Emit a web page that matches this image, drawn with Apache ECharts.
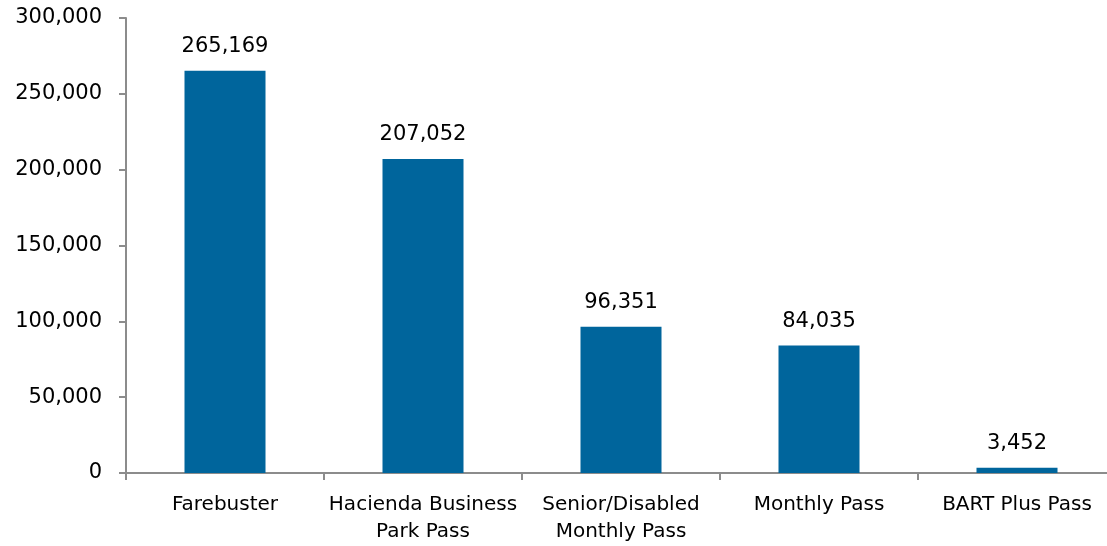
<!DOCTYPE html>
<html><head><meta charset="utf-8">
<script src="https://cdn.jsdelivr.net/npm/echarts@6/dist/echarts.min.js"></script>
<style>html,body{margin:0;padding:0;background:#fff;overflow:hidden}#c{width:1116px;height:546px}</style>
</head><body><div id="c"></div>
<script>
const categories = ["Farebuster", "Hacienda Business\nPark Pass", "Senior/Disabled\nMonthly Pass", "Monthly Pass", "BART Plus Pass"];
const values = [265169, 207052, 96351, 84035, 3452];
const yTicks = [0, 50000, 100000, 150000, 200000, 250000, 300000];
const FONT = "'DejaVu Sans', sans-serif";
const fmt = v => v.toLocaleString('en-US');
const chart = echarts.init(document.getElementById('c'));
chart.setOption({
  animation: false,
  grid: { left: 126, top: 18, bottom: 73, right: 0, containLabel: false },
  xAxis: {
    type: 'category', data: categories,
    axisLine: { lineStyle: { color: '#8c8c8c', width: 2 } },
    axisTick: { show: true, length: 7, lineStyle: { color: '#8c8c8c', width: 2 } },
    axisLabel: { color: '#000', fontFamily: FONT, fontSize: 20, lineHeight: 27, margin: 18, interval: 0 }
  },
  yAxis: {
    type: 'value', min: yTicks[0], max: yTicks[yTicks.length - 1], interval: 50000,
    splitLine: { show: false },
    axisLine: { show: true, lineStyle: { color: '#8c8c8c', width: 2 } },
    axisTick: { show: true, length: 7, lineStyle: { color: '#8c8c8c', width: 2 } },
    axisLabel: { color: '#000', fontFamily: FONT, fontSize: 21, margin: 24, formatter: v => fmt(v) }
  },
  series: [{
    type: 'bar', data: values, barWidth: 81,
    itemStyle: { color: '#00659c' },
    label: { show: true, position: 'top', distance: 14, color: '#000', fontFamily: FONT, fontSize: 21, formatter: p => fmt(p.value) }
  }]
});
</script></body></html>
